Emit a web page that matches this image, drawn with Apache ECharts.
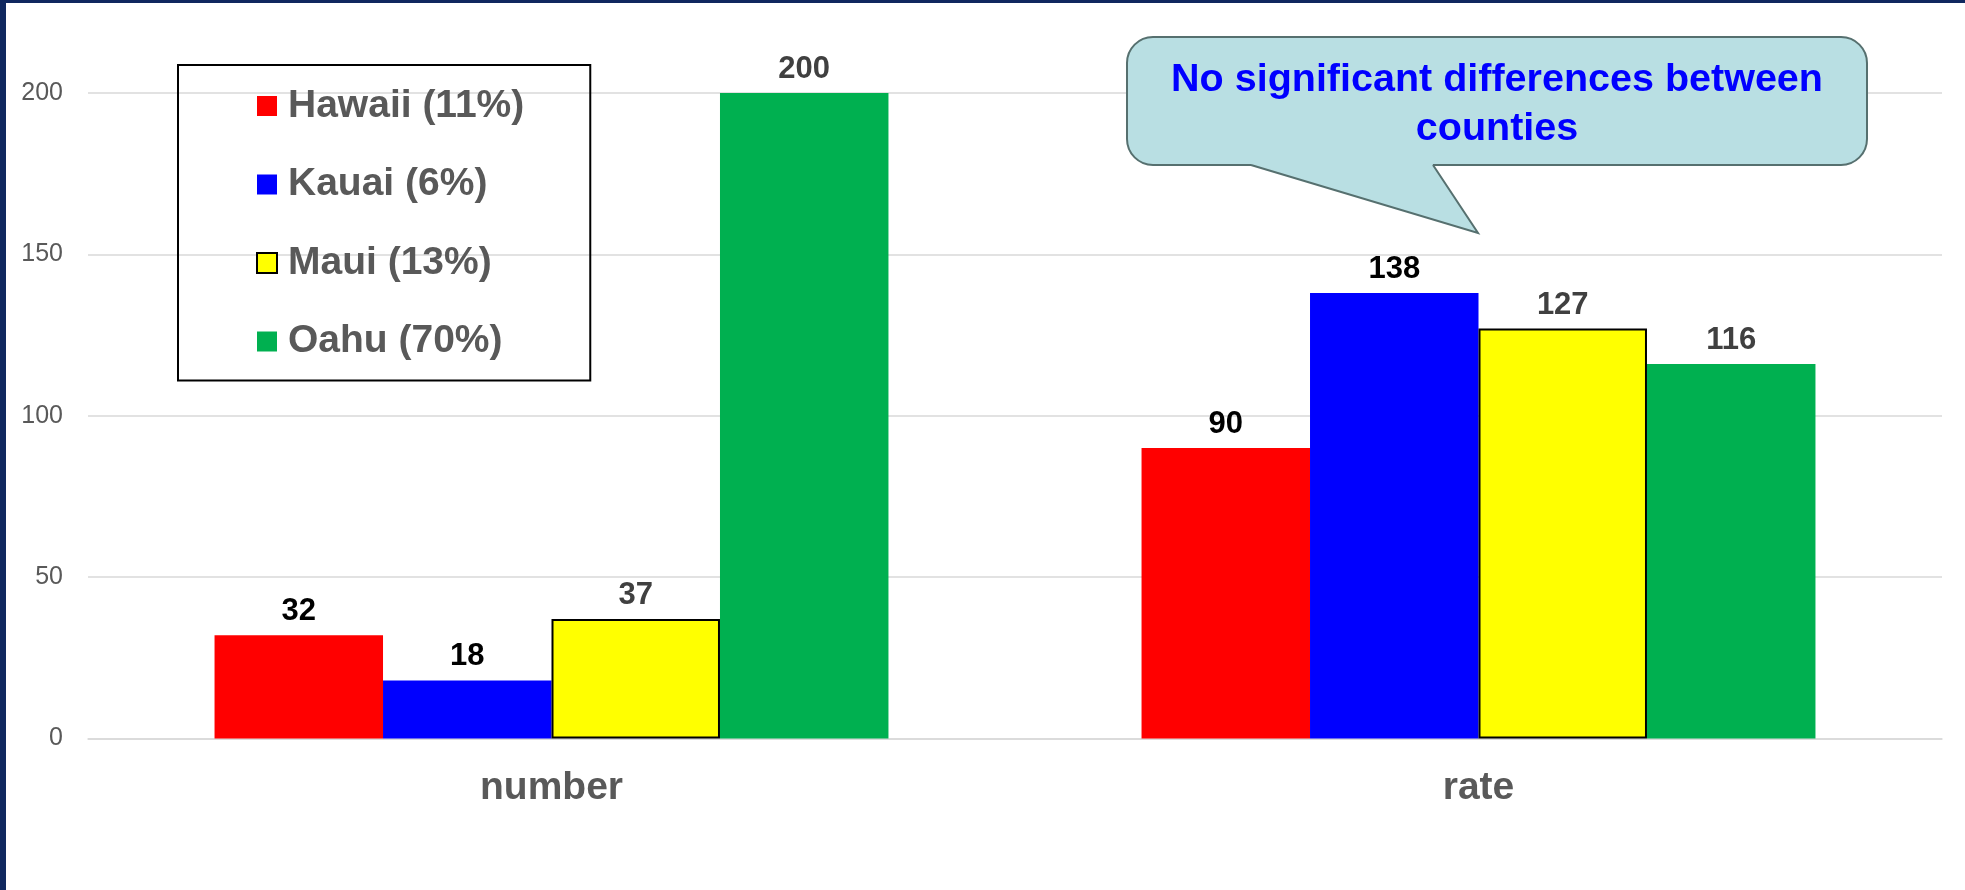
<!DOCTYPE html>
<html>
<head>
<meta charset="utf-8">
<script src="https://cdn.jsdelivr.net/npm/echarts@6/dist/echarts.min.js"></script>
<style>
  html, body { margin: 0; padding: 0; background: #ffffff; }
  #chart { width: 1965px; height: 890px; }
</style>
</head>
<body>
<div id="chart"></div>
<script>
// Categories and per-county values
const categories = ['number', 'rate'];
const countyNames = ['Hawaii (11%)', 'Kauai (6%)', 'Maui (13%)', 'Oahu (70%)'];
const hawaiiValues = [32, 90];
const kauaiValues = [18, 138];
const mauiValues = [37, 127];
const oahuValues = [200, 116];
const yTicks = [0, 50, 100, 150, 200];
const calloutText = 'No significant differences between\ncounties';

const FONT = '"Liberation Sans", Arial, sans-serif';
const GREY = '#595959';

function barSeries(name, data, color, labelColor, border) {
  return {
    name: name,
    type: 'bar',
    data: data,
    barGap: '0%',
    barCategoryGap: '27.3%',
    itemStyle: {
      color: color,
      borderColor: border ? '#000000' : color,
      borderWidth: border ? 2 : 0
    },
    label: {
      show: true,
      position: 'top',
      distance: 8,
      color: labelColor,
      fontFamily: FONT,
      fontWeight: 'bold',
      fontSize: 31
    }
  };
}

const frameFill = '#10285f';
const bubbleFill = '#b9dfe3';
const bubbleStroke = '#56706f';

const chart = echarts.init(document.getElementById('chart'), null, { renderer: 'canvas' });

chart.setOption({
  animation: false,
  backgroundColor: '#ffffff',
  grid: { left: 88, right: 23, top: 93, bottom: 151.5, containLabel: false },
  legend: {
    orient: 'vertical',
    left: 178,
    top: 65,
    padding: [21, 66, 19, 78],
    borderColor: '#000000',
    borderWidth: 2,
    itemWidth: 20,
    itemHeight: 20,
    itemGap: 38.5,
    icon: 'rect',
    data: countyNames,
    textStyle: {
      fontFamily: FONT,
      fontWeight: 'bold',
      fontSize: 39,
      lineHeight: 40,
      color: GREY,
      padding: [0, 0, 0, 6]
    }
  },
  xAxis: {
    type: 'category',
    data: categories,
    axisTick: { show: false },
    axisLine: { show: true, lineStyle: { color: '#d9d9d9', width: 1.5 } },
    axisLabel: {
      margin: 30,
      fontFamily: FONT,
      fontWeight: 'bold',
      fontSize: 39,
      color: GREY
    }
  },
  yAxis: {
    type: 'value',
    min: yTicks[0],
    max: yTicks[yTicks.length - 1],
    interval: yTicks[1] - yTicks[0],
    axisLine: { show: false },
    axisTick: { show: false },
    splitLine: { lineStyle: { color: '#d9d9d9', width: 1.5 } },
    axisLabel: {
      margin: 25,
      fontFamily: FONT,
      fontSize: 25,
      color: GREY
    }
  },
  series: [
    barSeries(countyNames[0], hawaiiValues, '#ff0000', '#000000', false),
    barSeries(countyNames[1], kauaiValues, '#0000ff', '#000000', false),
    barSeries(countyNames[2], mauiValues, '#ffff00', '#404040', true),
    barSeries(countyNames[3], oahuValues, '#00b050', '#404040', false)
  ],
  graphic: [
    // slide frame along the left and top edges
    {
      type: 'rect', left: 0, top: 0, z: 100,
      shape: { width: 6, height: 890 },
      style: { fill: frameFill }
    },
    {
      type: 'rect', left: 0, top: 0, z: 100,
      shape: { width: 1965, height: 3 },
      style: { fill: frameFill }
    },
    // speech bubble note: rounded body, tail fill, tail outline
    {
      type: 'rect', z: 50,
      shape: { x: 1127, y: 37, width: 740, height: 128, r: 26 },
      style: { fill: bubbleFill, stroke: bubbleStroke, lineWidth: 2 }
    },
    {
      type: 'polygon', z: 51,
      shape: { points: [[1252, 161], [1432, 161], [1433, 165], [1478, 233], [1251, 165]] },
      style: { fill: bubbleFill }
    },
    {
      type: 'polyline', z: 52,
      shape: { points: [[1251, 165], [1478, 233], [1433, 165]] },
      style: { stroke: bubbleStroke, lineWidth: 2, fill: null }
    },
    {
      type: 'text', z: 53,
      style: {
        text: calloutText,
        x: 1497,
        y: 105,
        align: 'center',
        verticalAlign: 'middle',
        fontFamily: FONT,
        fontWeight: 'bold',
        fontSize: 39.5,
        lineHeight: 49,
        fill: '#0000ff'
      }
    }
  ]
});
</script>
</body>
</html>
